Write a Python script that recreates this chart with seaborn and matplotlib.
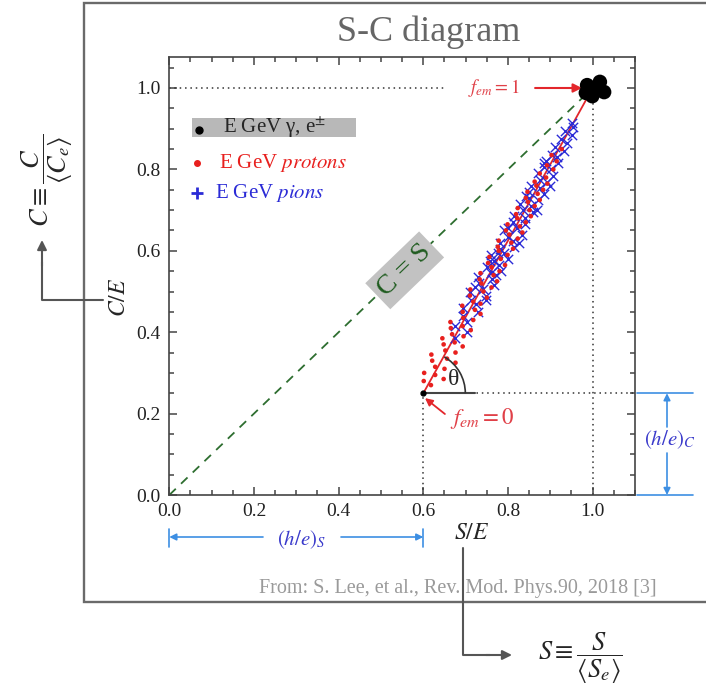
import matplotlib
matplotlib.use('Agg')
import matplotlib.pyplot as plt
import seaborn as sns
from matplotlib.patches import Rectangle, Arc

sns.set_theme(style='ticks')
plt.rcParams['font.family'] = ['Liberation Serif', 'DejaVu Serif']
plt.rcParams['mathtext.fontset'] = 'stix'

# ---------------- data ----------------
proton_s = [0.618, 0.601, 0.648, 0.628, 0.602, 0.650, 0.628, 0.676, 0.621, 0.656,
            0.619, 0.676, 0.652, 0.693, 0.648, 0.674, 0.645, 0.695, 0.668, 0.712,
            0.665, 0.693, 0.664, 0.718, 0.694, 0.735, 0.693, 0.722, 0.692, 0.735,
            0.718, 0.750, 0.710, 0.742, 0.711, 0.761, 0.737, 0.774, 0.733, 0.766,
            0.735, 0.780, 0.761, 0.793, 0.753, 0.783, 0.756, 0.799, 0.778, 0.812,
            0.776, 0.808, 0.778, 0.823, 0.803, 0.834, 0.795, 0.828, 0.799, 0.842,
            0.822, 0.854, 0.819, 0.851, 0.823, 0.863, 0.847, 0.875, 0.842, 0.870,
            0.846, 0.883, 0.867, 0.893, 0.863, 0.890, 0.875, 0.907, 0.892, 0.915,
            0.903, 0.927]
proton_c = [0.270, 0.280, 0.285, 0.295, 0.300, 0.310, 0.315, 0.325, 0.330, 0.335,
            0.345, 0.350, 0.355, 0.365, 0.370, 0.375, 0.385, 0.390, 0.395, 0.405,
            0.410, 0.415, 0.425, 0.430, 0.435, 0.445, 0.450, 0.455, 0.465, 0.470,
            0.475, 0.485, 0.490, 0.500, 0.505, 0.510, 0.520, 0.525, 0.530, 0.540,
            0.545, 0.550, 0.560, 0.565, 0.570, 0.580, 0.585, 0.590, 0.600, 0.605,
            0.610, 0.620, 0.625, 0.630, 0.640, 0.645, 0.650, 0.660, 0.665, 0.670,
            0.680, 0.685, 0.690, 0.700, 0.705, 0.710, 0.720, 0.725, 0.730, 0.740,
            0.745, 0.750, 0.760, 0.765, 0.770, 0.780, 0.790, 0.800, 0.810, 0.820,
            0.835, 0.850]

pion_s = [0.676, 0.702, 0.674, 0.704, 0.694, 0.730, 0.694, 0.724, 0.712, 0.748,
          0.711, 0.740, 0.766, 0.731, 0.762, 0.729, 0.759, 0.783, 0.751, 0.779,
          0.768, 0.801, 0.761, 0.791, 0.780, 0.814, 0.781, 0.813, 0.801, 0.833,
          0.791, 0.821, 0.839, 0.813, 0.840, 0.814, 0.859, 0.835, 0.854, 0.828,
          0.871, 0.849, 0.884, 0.850, 0.876, 0.854, 0.893, 0.876, 0.907, 0.872,
          0.902, 0.885, 0.919, 0.890, 0.916, 0.905, 0.933, 0.912, 0.939, 0.926,
          0.952, 0.935, 0.953, 0.951, 0.777, 0.869, 0.899, 0.826, 0.771, 0.748,
          0.800, 0.842, 0.757, 0.885, 0.722]
pion_c = [0.385, 0.400, 0.415, 0.425, 0.440, 0.450, 0.460, 0.470, 0.480, 0.490,
          0.500, 0.505, 0.515, 0.520, 0.530, 0.535, 0.545, 0.550, 0.560, 0.565,
          0.575, 0.580, 0.590, 0.595, 0.605, 0.610, 0.620, 0.625, 0.635, 0.640,
          0.650, 0.655, 0.665, 0.670, 0.680, 0.685, 0.695, 0.700, 0.710, 0.715,
          0.725, 0.730, 0.740, 0.745, 0.755, 0.760, 0.770, 0.775, 0.785, 0.790,
          0.800, 0.805, 0.815, 0.820, 0.830, 0.835, 0.845, 0.855, 0.865, 0.875,
          0.885, 0.895, 0.905, 0.915, 0.595, 0.700, 0.760, 0.620, 0.540, 0.480,
          0.655, 0.735, 0.575, 0.815, 0.510]

em_s = [0.987, 1.017, 1.027, 0.999, 0.984, 1.008]
em_c = [1.007, 1.015, 0.990, 0.980, 0.988, 1.000]

x_ticks = [0.0, 0.2, 0.4, 0.6, 0.8, 1.0]
y_ticks = [0.0, 0.2, 0.4, 0.6, 0.8, 1.0]
he_s = 0.6     # (h/e)_S
he_c = 0.25    # (h/e)_C

# ---------------- layout ----------------
W, H = 706, 690
AX_L, AX_R, AX_T, AX_B = 169.3, 635.0, 57.0, 495.0
XMAX, YMAX = 1.1, (AX_B - AX_T) / 407.0

def px(x):
    return AX_L + (AX_R - AX_L) * x / XMAX

def py(y):
    return AX_B - (AX_B - AX_T) * y / YMAX

fig = plt.figure(figsize=(W / 100, H / 100), dpi=100)
ax = fig.add_axes([AX_L / W, 1 - AX_B / H, (AX_R - AX_L) / W, (AX_B - AX_T) / H])
ax.set_zorder(1)
bg = fig.add_axes([0, 0, 1, 1])
bg.set_zorder(3)
bg.set_xlim(0, W)
bg.set_ylim(H, 0)
bg.axis('off')

grey = '#666666'
blue_line = '#3d8fe3'
blue_txt = '#3a3acb'
red = '#e3262b'

# outer frame
bg.plot([706, 84, 84, 706], [2.5, 2.5, 602, 602], color='#6a6a6a', lw=1.7,
        solid_joinstyle='miter')
bg.text(428.5, 41, 'S-C diagram', ha='center', va='baseline', fontsize=26, color=grey)
bg.text(457.5, 593, 'From: S. Lee, et al., Rev. Mod. Phys.90, 2018 [3]',
        ha='center', va='baseline', fontsize=14.5, color='#9a9a9a')

# left arrow to C definition
bg.plot([103, 42, 42], [300, 300, 262], color='#555555', lw=1.5)
bg.annotate('', xy=(42, 240), xytext=(42, 266),
            arrowprops=dict(arrowstyle='-|>', color='#555555', lw=1.5,
                            mutation_scale=14, shrinkA=0, shrinkB=0))
bg.text(47, 180, r'$C\equiv\dfrac{C}{\langle C_e\rangle}$', rotation=90,
        ha='center', va='center', fontsize=19)

# bottom arrow to S definition
bg.plot([463, 463, 490], [548, 655, 655], color='#555555', lw=1.5)
bg.annotate('', xy=(512, 655), xytext=(486, 655),
            arrowprops=dict(arrowstyle='-|>', color='#555555', lw=1.5,
                            mutation_scale=14, shrinkA=0, shrinkB=0))
bg.text(580, 658, r'$S\equiv\dfrac{S}{\langle S_e\rangle}$',
        ha='center', va='center', fontsize=19)

# (h/e)_S
arr_b = dict(arrowstyle='-|>', color=blue_line, lw=1.2, mutation_scale=10,
             shrinkA=0, shrinkB=0)
for xv in (0.0, he_s):
    bg.plot([px(xv), px(xv)], [529, 547], color=blue_line, lw=1.2)
bg.annotate('', xy=(px(0.0), 537), xytext=(263, 537), arrowprops=arr_b)
bg.annotate('', xy=(px(he_s), 537), xytext=(341, 537), arrowprops=arr_b)
bg.text(302, 540, r'$(h/e)_S$', ha='center', va='center', fontsize=15, color=blue_txt)

# (h/e)_C
for yv in (0.0, he_c):
    bg.plot([637, 693], [py(yv), py(yv)], color=blue_line, lw=1.2)
bg.annotate('', xy=(667, py(he_c)), xytext=(667, 427), arrowprops=arr_b)
bg.annotate('', xy=(667, py(0.0)), xytext=(667, 453), arrowprops=arr_b)
bg.text(670, 440, r'$(h/e)_C$', ha='center', va='center', fontsize=15, color=blue_txt)

# ---------------- main axes ----------------
ax.set_xlim(0, XMAX)
ax.set_ylim(0, YMAX)

ax.plot([0, 1], [0, 1], ls=(0, (5, 4)), color='#2e6e30', lw=1.3, zorder=2)
dot = dict(ls=(0, (1, 2.5)), color='#333333', lw=1.1, zorder=1)
ax.plot([0, 0.651], [1, 1], **dot)
ax.plot([1, 1], [0, 0.975], **dot)
ax.plot([he_s, he_s], [0, he_c], **dot)
ax.plot([he_s, XMAX], [he_c, he_c], **dot)
ax.plot([he_s, 0.722], [he_c, he_c], color='#444444', lw=1.5, zorder=2)
ax.plot([he_s, 1.0], [he_c, 1.0], color=red, lw=1.3, zorder=2)

sns.scatterplot(x=pion_s, y=pion_c, marker='x', color='#2b2bd6', s=45,
                linewidth=1.0, ax=ax, zorder=3)
sns.scatterplot(x=proton_s, y=proton_c, marker='o', color='#e8201e', s=11,
                edgecolor='none', ax=ax, zorder=3)
sns.scatterplot(x=em_s, y=em_c, marker='o', color='black', s=110,
                edgecolor='none', ax=ax, zorder=5)
ax.plot(he_s, he_c, 'o', ms=3.5, color='black', zorder=6)

ax.add_patch(Arc((he_s, he_c), width=2 * 42 / 423.3, height=2 * 42 / 407,
                 theta1=0, theta2=61, color='#333333', lw=1.2, zorder=3))
ax.text(0.672, 0.283, 'θ', fontsize=17, ha='center', va='center', zorder=6)

ax.text(0.767, 1.0, r'$f_{em}=1$', color='#e04048', fontsize=13.5,
        ha='center', va='center')
ax.annotate('', xy=(0.975, 1.0), xytext=(0.864, 1.0),
            arrowprops=dict(arrowstyle='-|>', color=red, lw=1.5,
                            mutation_scale=13, shrinkA=0, shrinkB=0))
ax.text(0.740, 0.188, r'$f_{em}=0$', color='#e04048', fontsize=16.5,
        ha='center', va='center')
ax.annotate('', xy=(0.604, 0.238), xytext=(0.651, 0.199),
            arrowprops=dict(arrowstyle='-|>', color=red, lw=1.3,
                            mutation_scale=11, shrinkA=0, shrinkB=0))

ax.text(0.556, 0.552, 'C = S', rotation=43.9, rotation_mode='anchor',
        ha='center', va='center', fontsize=20, color='#1f5c1f', zorder=4,
        bbox=dict(boxstyle='square,pad=0.2', fc='#c2c2c2', ec='none'))

# legend
ax.add_patch(Rectangle((0.0536, 0.880), 0.3874, 0.046, fc='#b8b8b8', ec='none', zorder=2))
ax.plot(0.070, 0.898, 'o', ms=5, color='black', zorder=3)
ax.text(0.127, 0.901, r'E GeV γ, e$^{\pm}$', fontsize=15, va='center', ha='left', zorder=3)
ax.plot(0.066, 0.816, 'o', ms=4, color='#e8201e', zorder=3)
ax.text(0.117, 0.815, r'E GeV $\mathit{protons}$', fontsize=15, color='#e8201e',
        va='center', ha='left')
ax.plot(0.066, 0.742, '+', ms=9, mew=2, color='#2b2bd6', zorder=3)
ax.text(0.108, 0.742, r'E GeV $\mathit{pions}$', fontsize=15, color='#2b2bd6',
        va='center', ha='left')

# axes styling
ax.set_xticks(x_ticks)
ax.set_yticks(y_ticks)
ax.set_xticklabels([f'{v:.1f}' for v in x_ticks])
ax.set_yticklabels([f'{v:.1f}' for v in y_ticks])
ax.set_xticks([i * 0.05 for i in range(23)], minor=True)
ax.set_yticks([i * 0.05 for i in range(22)], minor=True)
ax.tick_params(which='both', direction='in', top=True, right=True,
               color='#444444', labelsize=14, labelcolor='#222222', width=1.1)
ax.tick_params(which='major', length=6, pad=6)
ax.tick_params(which='minor', length=3.5)
for sp in ax.spines.values():
    sp.set_visible(True)
    sp.set_color('#444444')
    sp.set_linewidth(1.2)

ax.set_xlabel(r'$S/E$', fontsize=17)
ax.set_ylabel(r'$C/E$', fontsize=17)
ax.xaxis.set_label_coords((472 - AX_L) / (AX_R - AX_L), (AX_B - 523) / (AX_B - AX_T))
ax.yaxis.set_label_coords((130 - AX_L) / (AX_R - AX_L), (AX_B - 297) / (AX_B - AX_T))

fig.savefig('out.png', dpi=100, facecolor='white')
